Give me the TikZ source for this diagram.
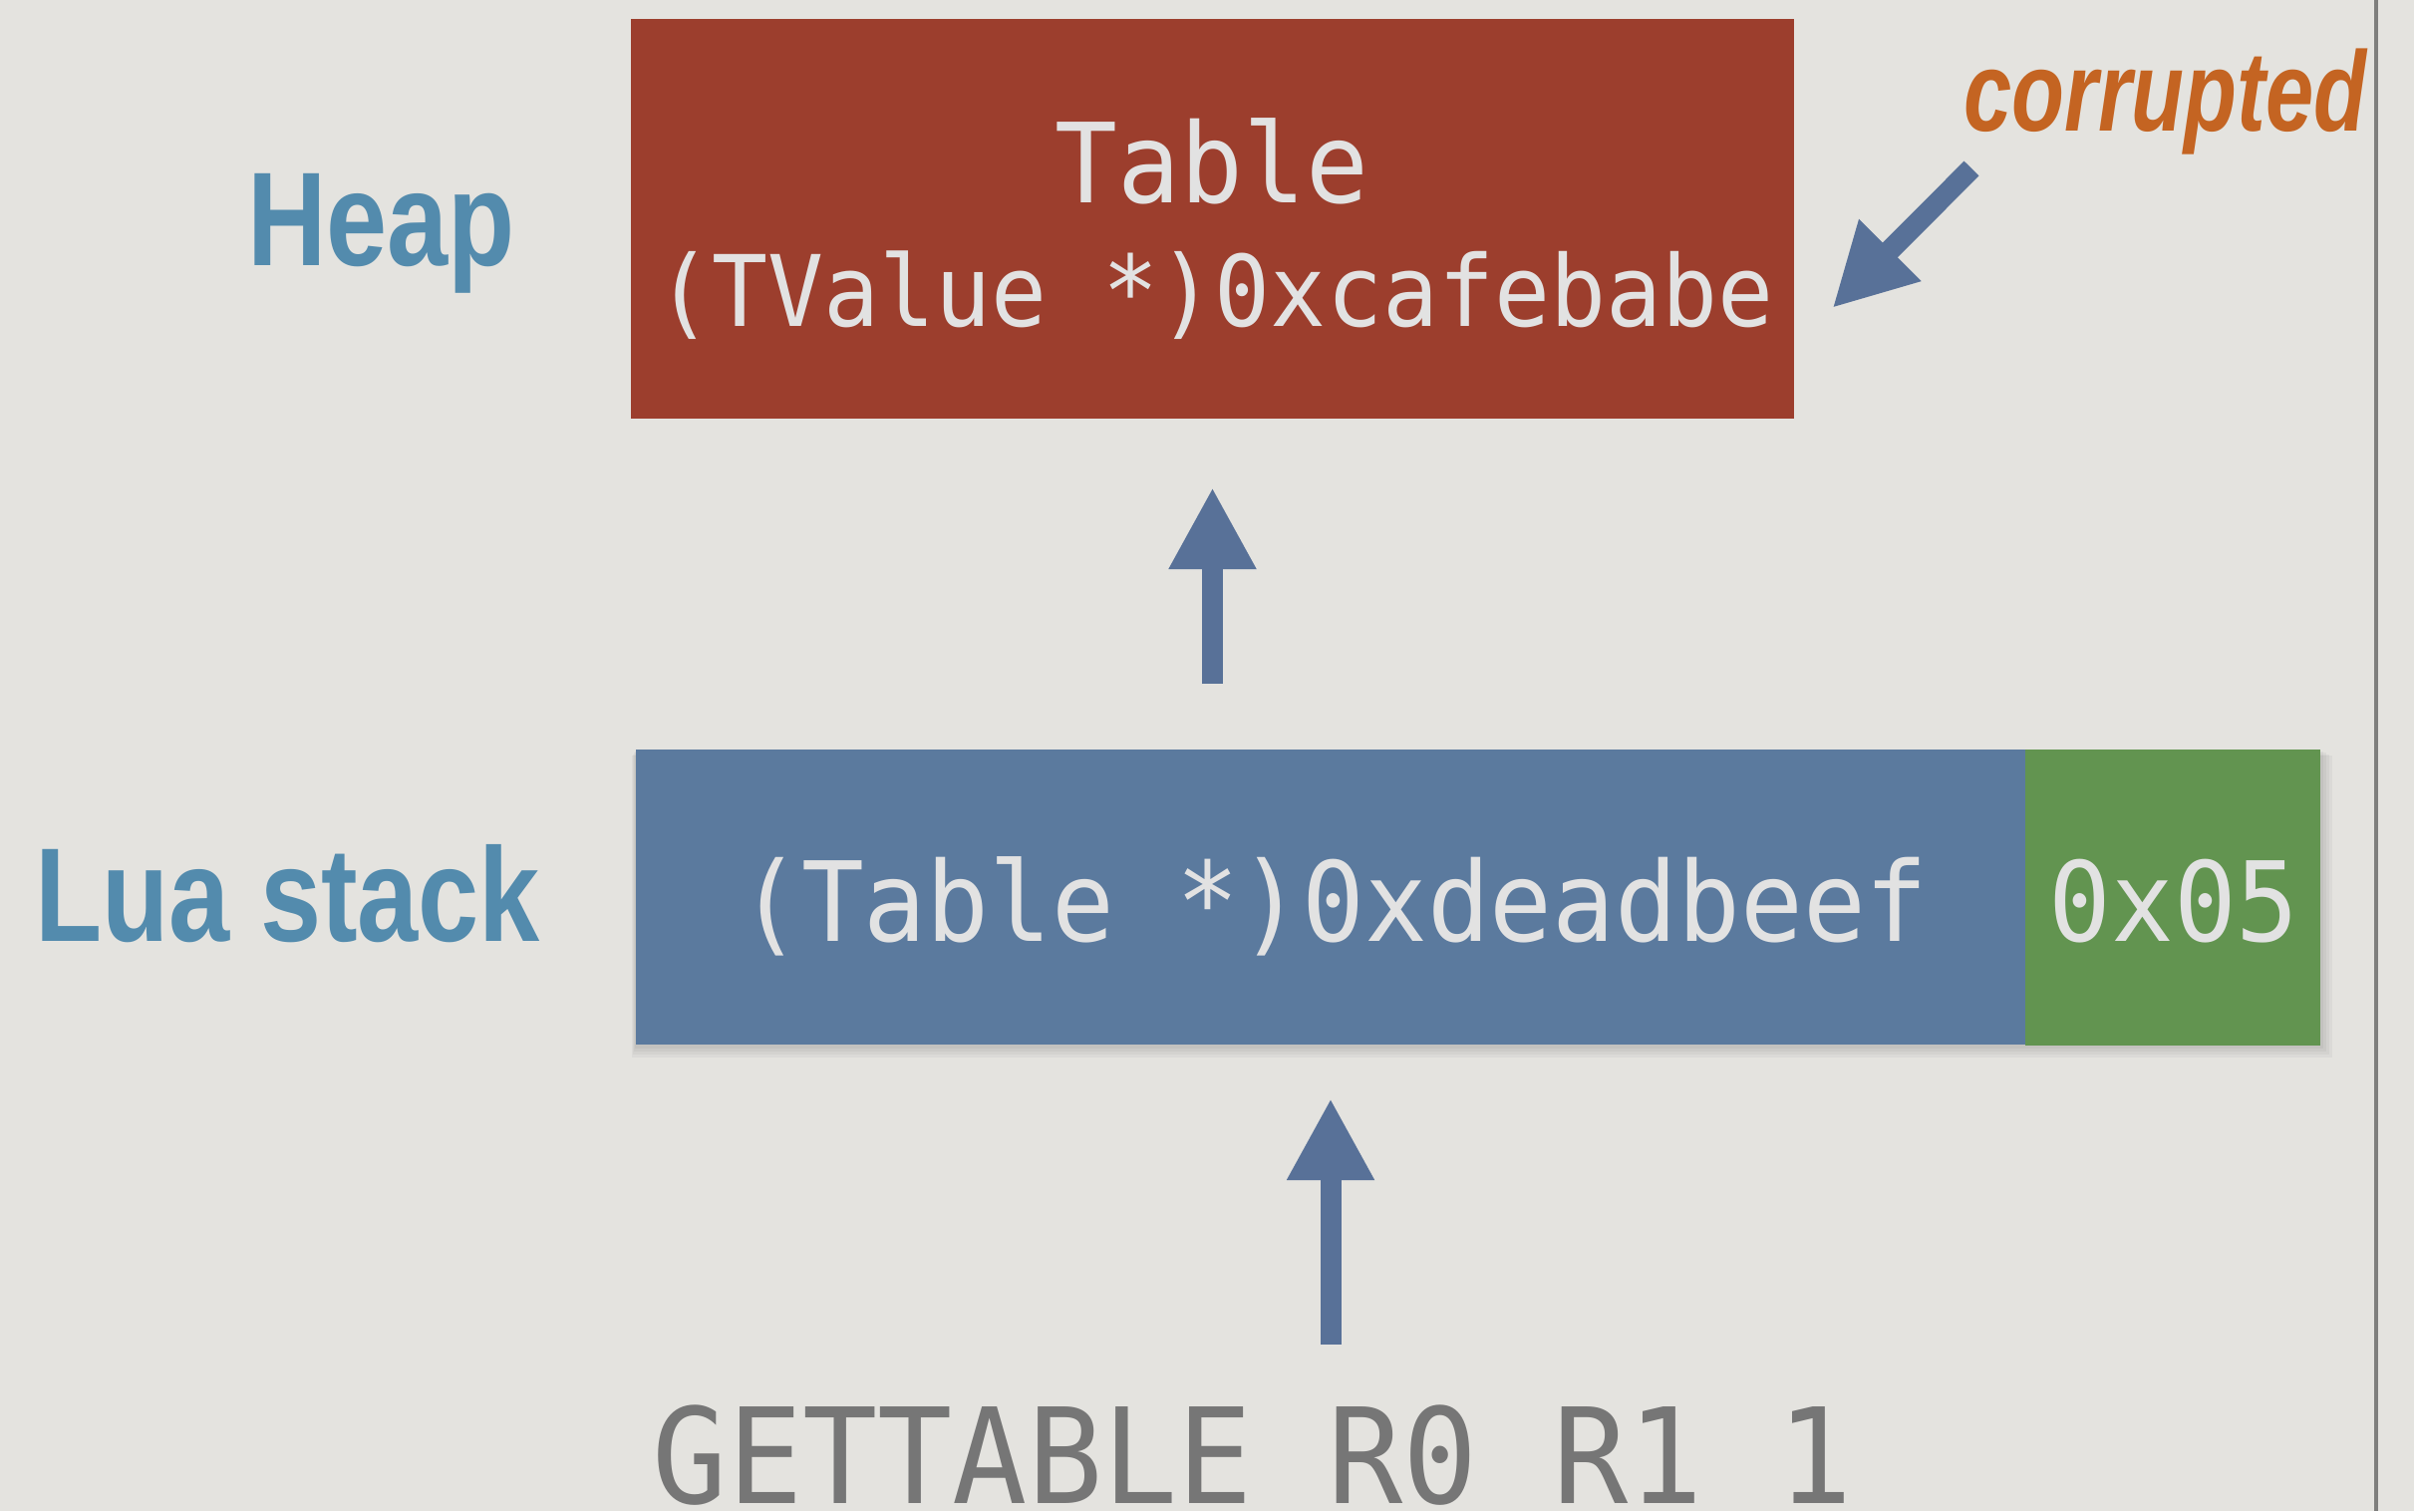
\documentclass[tikz,border=0pt]{standalone}
\usepackage{fontspec}
\setmonofont[FakeStretch=0.94]{DejaVu Sans Mono}
\newfontfamily\labelfont[FakeStretch=0.82]{Liberation Sans}
\newfontfamily\corfont[FakeStretch=0.76]{Liberation Sans}
\usetikzlibrary{arrows.meta}
\definecolor{bgpaper}{HTML}{E4E3DF}
\definecolor{heapred}{HTML}{9C3E2D}
\definecolor{stackblue}{HTML}{5B7A9E}
\definecolor{taggreen}{HTML}{629450}
\definecolor{arrowblue}{HTML}{587198}
\definecolor{labelblue}{HTML}{538BAD}
\definecolor{corrorange}{HTML}{C46422}
\definecolor{opgrey}{HTML}{767676}
\definecolor{rulegrey}{HTML}{7F7F7D}
\definecolor{boxtext}{HTML}{E2E2E2}
\tikzset{
  memblock/.style={rectangle, inner sep=0pt, outer sep=0pt},
  boxlabel/.style={anchor=base, inner sep=0pt, text=boxtext, font=\ttfamily\fontsize{111}{120}\selectfont},
  sidelabel/.style={anchor=base west, inner sep=0pt, text=labelblue, font=\labelfont\bfseries\fontsize{134}{140}\selectfont},
  bigarrow/.style={draw=arrowblue, line width=21pt, -{Triangle[length=82pt,width=82pt]}, arrowblue}
}
\begin{document}
\begin{tikzpicture}[x=1pt,y=-1pt]
\path[use as bounding box, fill=bgpaper] (0,0) rectangle (2422,1516);
% right rule
\draw[rulegrey, line width=4.3pt] (2384,0) -- (2384,1516);
% heap box
\node[memblock, fill=heapred, minimum width=1167pt, minimum height=401.5pt] (heapbox) at (1216.5,219.25) {};
\node[boxlabel] (tabletxt) at (1216,203) {Table};
\node[boxlabel, font=\ttfamily\fontsize{99}{110}\selectfont] (tvaluetxt) at (1219,327) {(TValue *)0xcafebabe};
% soft shadow of the stack slot
\foreach \s in {3,6,9,12}
  \fill[black, opacity=0.035] (638-\s/3,752+\s/2) rectangle (2328+\s,1049+\s);
% stack slot
\node[memblock, fill=stackblue, minimum width=1394pt, minimum height=296pt] (stackbox) at (1335,900) {};
\node[memblock, fill=taggreen, minimum width=296pt, minimum height=297pt] (tagbox) at (2180,900.5) {};
\node[boxlabel] (ptrtxt) at (1338,944) {(Table *)0xdeadbeef};
\node[boxlabel] (tagtxt) at (2181,944) {0x05};
% side labels
\node[sidelabel] (heaplbl) at (248,266) {Heap};
\node[sidelabel] (stacklbl) at (35,944) {Lua stack};
\node[anchor=base west, inner sep=0pt, text=corrorange, font=\corfont\bfseries\itshape\fontsize{114}{120}\selectfont] (corrlbl) at (1970,131) {corrupted};
% instruction
\node[anchor=base, inner sep=0pt, text=opgrey, font=\ttfamily\fontsize{133}{140}\selectfont] (optxt) at (1257,1508) {GETTABLE R0 R1 1};
% arrows
\coordinate (a1tail) at (1216.5,686);
\draw[bigarrow, shorten >=69pt] (a1tail) -- (heapbox.south);
\coordinate (a2tail) at (1335,1349);
\draw[bigarrow, shorten >=54pt] (a2tail) -- (stackbox.south);
\coordinate (ctail) at (1978,169);
\coordinate (ctip) at (1838.5,309);
\draw[bigarrow] (ctail) -- (ctip);
\end{tikzpicture}
\end{document}
